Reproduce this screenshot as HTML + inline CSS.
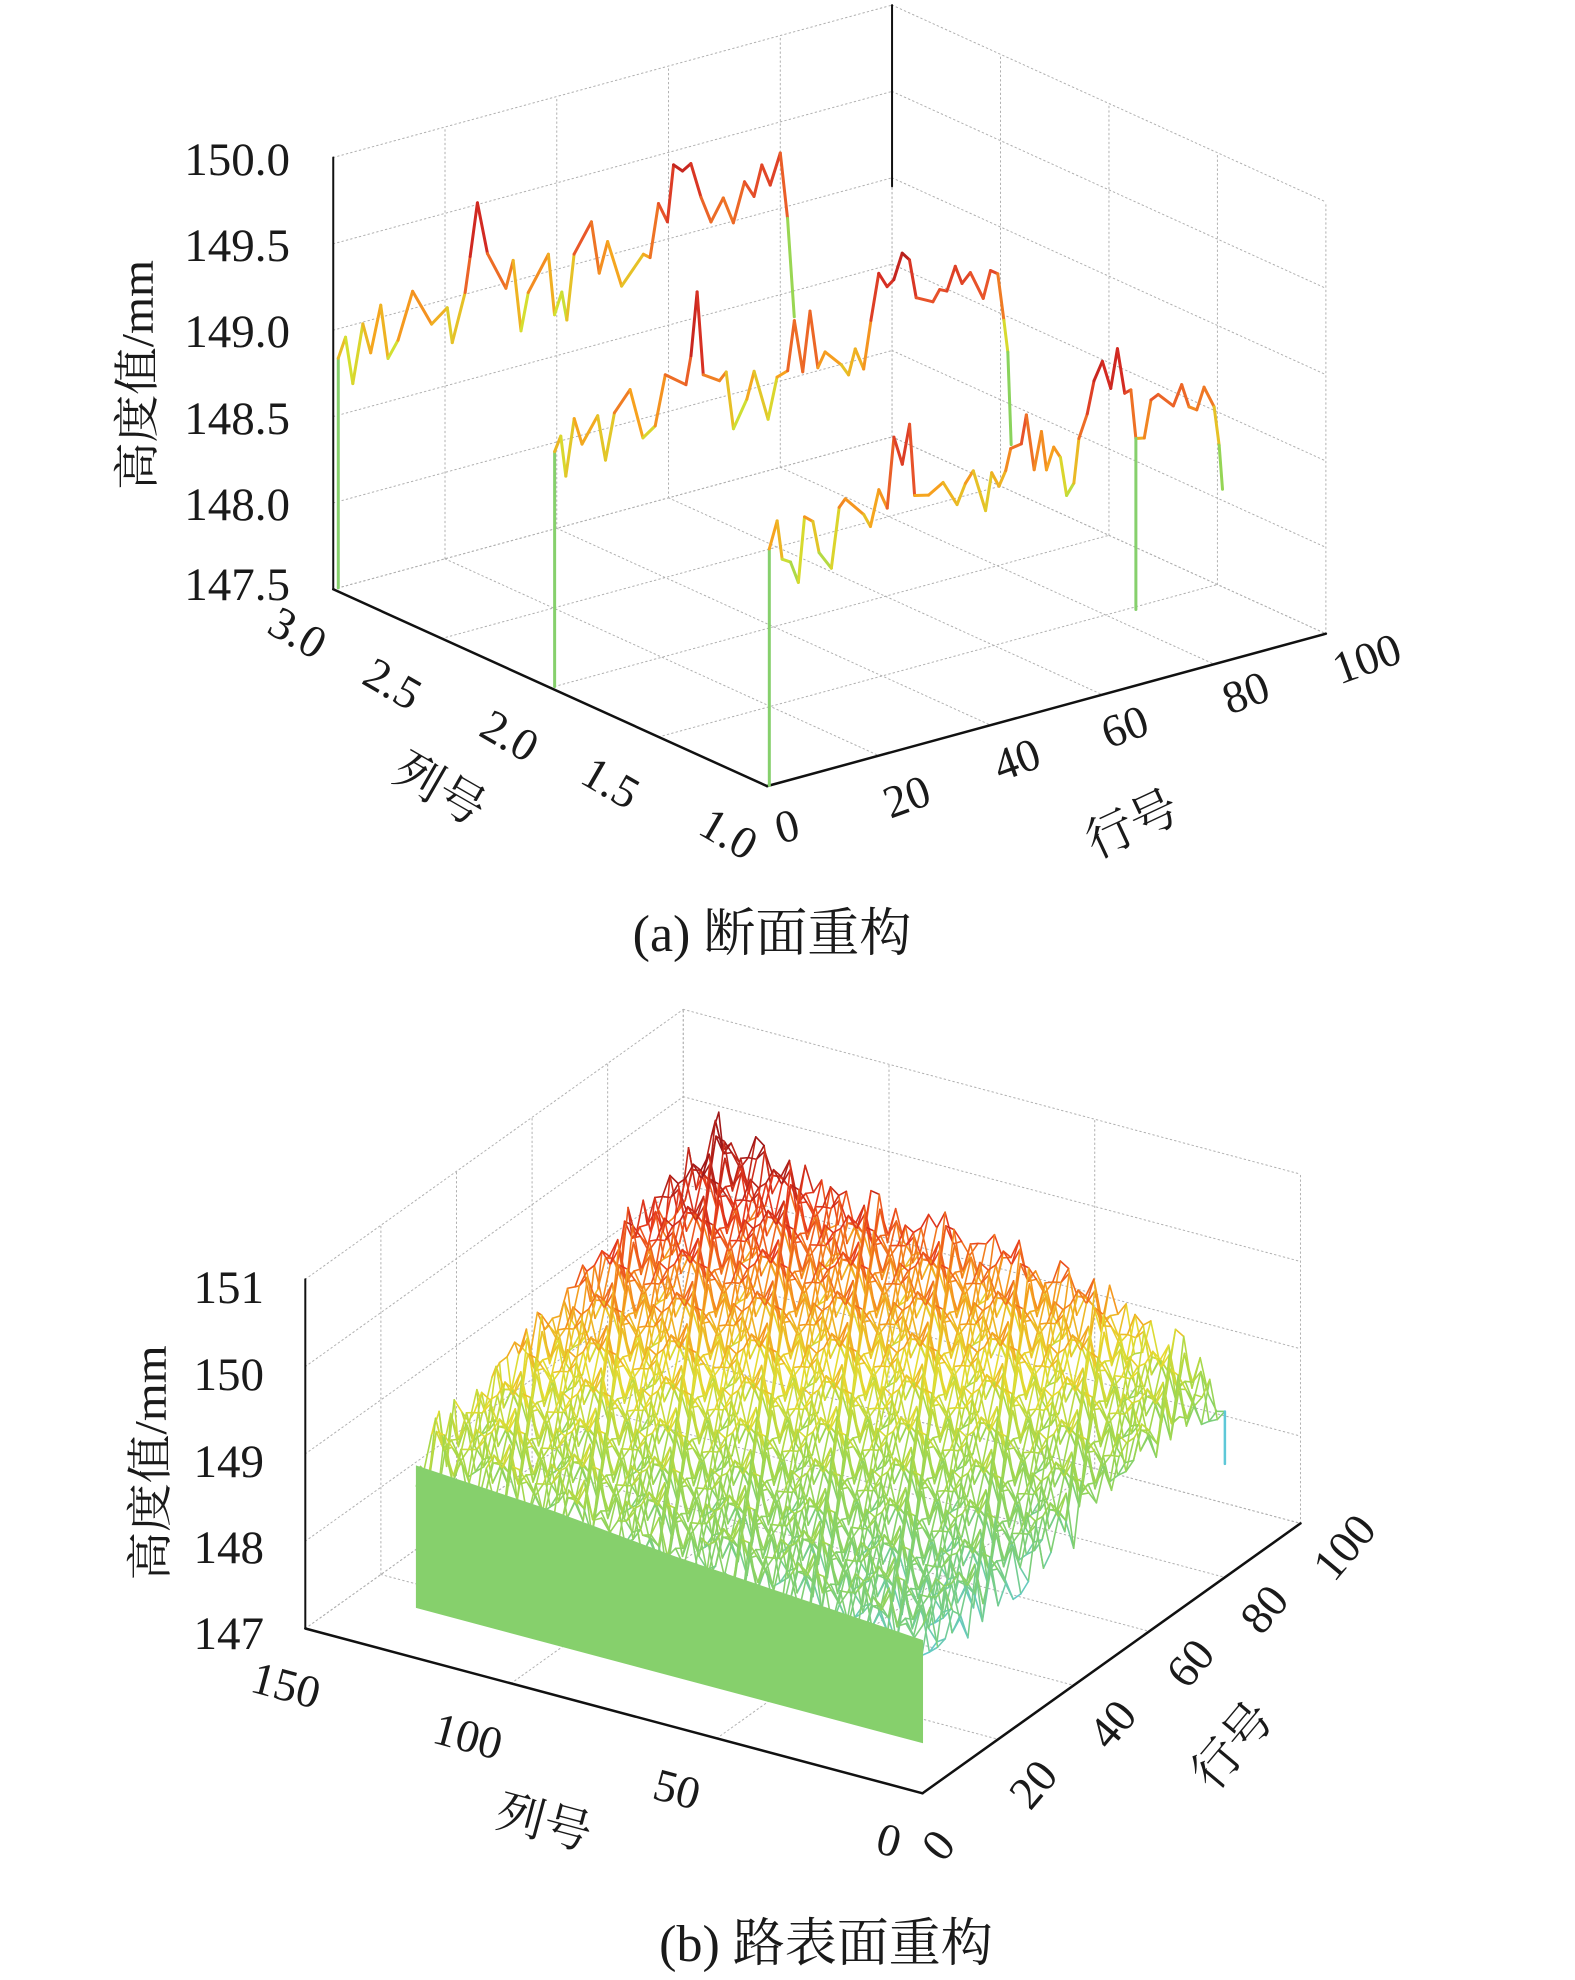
<!DOCTYPE html>
<html><head><meta charset="utf-8">
<style>
html,body{margin:0;padding:0;background:#fff;}
svg{display:block;}
text{font-family:"Liberation Serif","Noto Serif CJK SC","Noto Sans CJK SC",serif;fill:#1a1a1a;}
</style></head>
<body>
<svg id="fig" xmlns="http://www.w3.org/2000/svg" width="1575" height="1980" viewBox="0 0 1575 1980">
<g id="topG" transform="scale(1.016,0.635)"></g>
<g id="botG" transform="translate(0,990) scale(1.016,0.635)"></g>
<g id="texts">
 <g font-size="47" text-anchor="end">
  <text x="290" y="175">150.0</text>
  <text x="290" y="261">149.5</text>
  <text x="290" y="347">149.0</text>
  <text x="290" y="434">148.5</text>
  <text x="290" y="520">148.0</text>
  <text x="290" y="600">147.5</text>
 </g>
 <g font-size="46" text-anchor="middle">
  <text transform="translate(290,646) rotate(30)">3.0</text>
  <text transform="translate(385,697) rotate(30)">2.5</text>
  <text transform="translate(502,749) rotate(30)">2.0</text>
  <text transform="translate(603,796) rotate(30)">1.5</text>
  <text transform="translate(721,847) rotate(30)">1.0</text>
 </g>
 <g font-size="46" text-anchor="middle">
  <text transform="translate(791,841) rotate(-15)">0</text>
  <text transform="translate(912,811) rotate(-20)">20</text>
  <text transform="translate(1022,774) rotate(-20)">40</text>
  <text transform="translate(1130,741) rotate(-20)">60</text>
  <text transform="translate(1251,707) rotate(-20)">80</text>
  <text transform="translate(1372,673) rotate(-20)">100</text>
 </g>
 <text font-size="48" text-anchor="middle" transform="translate(432,803) rotate(30)">列号</text>
 <text font-size="48" text-anchor="middle" transform="translate(1139,839) rotate(-25)">行号</text>
 <text font-size="46" text-anchor="middle" transform="translate(153,375) rotate(-90)" textLength="230" lengthAdjust="spacingAndGlyphs">高度值/mm</text>
 <text font-size="52" text-anchor="middle" x="772" y="951">(a) 断面重构</text>

 <g font-size="47" text-anchor="end">
  <text x="264" y="1303">151</text>
  <text x="264" y="1390">150</text>
  <text x="264" y="1477">149</text>
  <text x="264" y="1563">148</text>
  <text x="264" y="1649">147</text>
 </g>
 <g font-size="46" text-anchor="middle">
  <text transform="translate(282,1700) rotate(15)">150</text>
  <text transform="translate(464,1751) rotate(15)">100</text>
  <text transform="translate(673,1804) rotate(15)">50</text>
  <text transform="translate(885,1855) rotate(15)">0</text>
 </g>
 <g font-size="46" text-anchor="middle">
  <text transform="translate(950,1855) rotate(-50)">0</text>
  <text transform="translate(1045,1794) rotate(-50)">20</text>
  <text transform="translate(1124,1734) rotate(-50)">40</text>
  <text transform="translate(1202,1673) rotate(-50)">60</text>
  <text transform="translate(1276,1619) rotate(-50)">80</text>
  <text transform="translate(1356,1557) rotate(-50)">100</text>
 </g>
 <text font-size="48" text-anchor="middle" transform="translate(540,1838) rotate(15)">列号</text>
 <text font-size="48" text-anchor="middle" transform="translate(1245,1756) rotate(-50)">行号</text>
 <text font-size="46" text-anchor="middle" transform="translate(166,1463) rotate(-90)" textLength="235" lengthAdjust="spacingAndGlyphs">高度值/mm</text>
 <text font-size="52" text-anchor="middle" x="826" y="1961">(b) 路表面重构</text>
</g>
</svg>
<script>
// ---------- (a) profile data ----------
const profileCols = [3, 2, 1];
const rows1 = [0.9,2.2,3.5,5.3,6.7,8.5,9.8,11.6,14.2,17.6,20.4,21.3,23.6,24.5,25.8,27.6,30.9,32.2,33.6,34.9,38.5,39.6,40.9,41.8,43.1,46.2,47.6,49.1,51.6,55.5,56.7,58.2,59.8,60.9,62.5,64.0,65.8,67.6,69.8,71.6,73.6,75.3,76.7,78.2,80.0,81.3,82.5];
const z1 = [148.83,148.94,148.66,148.99,148.81,149.07,148.75,148.84,149.10,148.88,148.95,148.74,149.01,149.21,149.51,149.20,148.97,149.12,148.70,148.91,149.10,148.74,148.86,148.69,149.06,149.22,148.91,149.08,148.80,148.95,148.92,149.22,149.10,149.42,149.37,149.40,149.19,149.03,149.15,148.99,149.21,149.11,149.28,149.15,149.32,148.93,148.35];
const rows2 = [0.8,1.9,2.8,4.3,5.7,8.5,9.9,11.5,14.3,16.6,18.8,20.6,24.3,25.2,26.3,27.4,30.3,31.5,32.8,35.2,36.5,39.0,40.6,42.5,43.7,45.2,46.5,47.9,49.2,52.1,53.4,54.6,56.1,57.4,58.8,60.3,61.5,63.0,64.3,65.5,68.5,69.7,71.0,72.5,73.7,75.2,77.5,78.8,80.1,81.2,81.9,82.5];
const z2 = [148.86,148.94,148.70,149.02,148.86,149.00,148.73,148.99,149.10,148.80,148.85,149.13,149.04,149.20,149.56,149.07,149.01,149.05,148.71,148.86,149.01,148.71,148.94,148.96,149.24,148.93,149.27,148.93,149.01,148.91,148.84,148.98,148.85,149.12,149.38,149.29,149.32,149.46,149.41,149.18,149.13,149.19,149.17,149.30,149.19,149.24,149.07,149.22,149.19,148.91,148.72,148.18];
const rows3 = [0.4,1.8,2.7,4.2,5.6,6.7,8.2,9.3,11.5,12.9,14.0,17.3,18.5,20.0,21.5,22.7,24.2,25.5,26.4,28.9,31.5,34.0,35.5,36.9,39.1,40.2,41.5,42.7,43.6,45.5,46.4,47.8,49.1,50.0,51.3,52.5,53.6,54.9,55.8,57.3,58.5,60.0,61.5,62.7,64.0,65.1,66.0,67.5,68.7,70.0,72.7,74.2,75.5,76.9,78.2,80.0,80.9,81.5];
const z3 = [148.87,149.02,148.79,148.76,148.63,149.00,148.96,148.77,148.66,149.00,149.04,148.92,148.84,149.04,148.92,149.32,149.15,149.37,148.95,148.93,148.98,148.83,148.94,149.00,148.75,148.96,148.87,148.95,149.07,149.08,149.24,148.91,149.12,148.89,149.01,148.94,148.71,148.77,149.02,149.15,149.33,149.43,149.26,149.48,149.21,149.22,148.93,148.92,149.13,149.15,149.06,149.17,149.03,149.00,149.12,148.99,148.76,148.50];
const dropRow3 = 66.0, dropLow3 = 147.94;
const topZTicks = [147.5,148.0,148.5,149.0,149.5,150.0];
const topRowTicks = [0,20,40,60,80,100];
const topColTicks = [1.0,1.5,2.0,2.5,3.0];

// ---------- (b) surface data ----------
const surfRows = [0,20,40,60,80];
const surfCols = [0,30,60,90,123];
const surfZ0 = [148.8,148.9,149.0,149.15,149.25];
const surfZ20 = [148.75,148.95,149.1,149.3,149.45];
const surfZ40 = [148.95,149.2,149.4,149.6,149.8];
const surfZ60 = [149.2,149.5,149.7,149.9,150.15];
const surfZ80 = [149.1,149.8,149.95,150.05,150.45];
const roughness = [0.12,-0.28,0.31,-0.05,0.22,-0.36,0.08,0.27,-0.18,0.02,-0.31,0.19,0.35,-0.12,-0.24,0.14,0.05,-0.33,0.26,-0.08,0.17,-0.2,0.33,-0.02,-0.27,0.1,0.24,-0.15,0.06,-0.38,0.2,0.29,-0.1,-0.22,0.15,-0.04,0.3];
const botZTicks = [147,148,149,150,151];
const botRowTicks = [0,20,40,60,80,100];
const botColTicks = [0,50,100,150];

const NS = "http://www.w3.org/2000/svg";
function mk(tag, attrs, parent){ const e=document.createElementNS(NS,tag); for(const k in attrs) e.setAttribute(k,attrs[k]); parent.appendChild(e); return e; }
function hex(c){return [parseInt(c.substr(1,2),16),parseInt(c.substr(3,2),16),parseInt(c.substr(5,2),16)];}
function cmap(stops, z){
  if(z<=stops[0][0]) return stops[0][1];
  for(let i=1;i<stops.length;i++){ if(z<=stops[i][0]){ const t=(z-stops[i-1][0])/(stops[i][0]-stops[i-1][0]); const a=hex(stops[i-1][1]), b=hex(stops[i][1]); return "rgb("+a.map((v,j)=>Math.round(v+(b[j]-v)*t)).join(",")+")"; } }
  return stops[stops.length-1][1];
}
function line(g, p, q, color, w, dash, name){
  const l = mk("line",{x1:p[0],y1:p[1],x2:q[0],y2:q[1],stroke:color,"stroke-width":w,"vector-effect":"non-scaling-stroke","stroke-linecap":"round"},g);
  if(dash) l.setAttribute("stroke-dasharray",dash);
  
  
  return l;
}

// ===== top =====
(function(){
  const g = document.getElementById("topG");
  const P = (r,c,z)=>[755+5.5*r-213.5*(c-1), 1238-2.4*r-155*(c-1)-272*(z-147.5)];
  const grid="#b0b0b0", d="1.5 3";
  topZTicks.forEach(z=>{ line(g,P(0,3,z),P(100,3,z),grid,1,d,"grid-z"); line(g,P(100,3,z),P(100,1,z),grid,1,d,"grid-z"); });
  topRowTicks.forEach(r=>{ line(g,P(r,3,147.5),P(r,3,150),grid,1,d,"grid-row"); line(g,P(r,3,147.5),P(r,1,147.5),grid,1,d,"grid-floor-row"); });
  topColTicks.forEach(c=>{ line(g,P(100,c,147.5),P(100,c,150),grid,1,d,"grid-col"); line(g,P(0,c,147.5),P(100,c,147.5),grid,1,d,"grid-floor-col"); });
  line(g,P(0,3,147.5),P(0,3,150),"#111",2,null,"z-axis");
  line(g,P(0,3,147.5),P(0,1,147.5),"#111",2.5,null,"col-axis");
  line(g,P(0,1,147.5),P(100,1,147.5),"#111",2.5,null,"row-axis");
  line(g,P(100,3,150),P(100,3,148.95),"#111",2,null,"back-edge");
  const stops=[[148.6,"#8ad35c"],[148.8,"#d4e030"],[148.95,"#f7a21e"],[149.15,"#e8542a"],[149.35,"#d42a22"],[149.55,"#8e1616"]];
  const series=[[rows1,z1],[rows2,z2],[rows3,z3]];
  series.forEach((s,si)=>{
    const c=profileCols[si], R=s[0], Z=s[1];
    line(g,P(R[0],c,147.5),P(R[0],c,Z[0]),"#86d06c",3,null,"profile-"+(si+1)+"-drop");
    for(let i=1;i<R.length;i++){
      line(g,P(R[i-1],c,Z[i-1]),P(R[i],c,Z[i]),cmap(stops,(Z[i-1]+Z[i])/2),3,null,"profile-"+(si+1)+"-segment");
    }
  });
  line(g,P(dropRow3,1,148.93),P(dropRow3,1,dropLow3),"#86d06c",3,null,"profile-3-spike");
})();

// ===== bottom =====
(function(){
  const g = document.getElementById("botG");
  const P = (r,c,z)=>[908+3.72*r-4.05*c, 1265-4.25*r-1.73*c-137.5*(z-147)];
  const grid="#b0b0b0", d="1.5 3";
  botZTicks.forEach(z=>{ line(g,P(0,150,z),P(100,150,z),grid,1,d,"grid-z"); line(g,P(100,150,z),P(100,0,z),grid,1,d,"grid-z"); });
  botRowTicks.forEach(r=>{ line(g,P(r,150,147),P(r,150,151),grid,1,d,"grid-row"); line(g,P(r,150,147),P(r,0,147),grid,1,d,"grid-floor-row"); });
  botColTicks.forEach(c=>{ line(g,P(100,c,147),P(100,c,151),grid,1,d,"grid-col"); line(g,P(0,c,147),P(100,c,147),grid,1,d,"grid-floor-col"); });
  line(g,P(0,150,147),P(0,150,151),"#111",2,null,"z-axis");
  line(g,P(0,150,147),P(0,0,147),"#111",2.5,null,"col-axis");
  line(g,P(0,0,147),P(100,0,147),"#111",2.5,null,"row-axis");
  const grid2=[surfZ0,surfZ20,surfZ40,surfZ60,surfZ80];
  function trend(r,c){
    let i=0; while(i<surfRows.length-2 && r>surfRows[i+1]) i++;
    let j=0; while(j<surfCols.length-2 && c>surfCols[j+1]) j++;
    const tr=(r-surfRows[i])/(surfRows[i+1]-surfRows[i]), tc=(c-surfCols[j])/(surfCols[j+1]-surfCols[j]);
    const a=grid2[i][j]+(grid2[i][j+1]-grid2[i][j])*tc, b=grid2[i+1][j]+(grid2[i+1][j+1]-grid2[i+1][j])*tc;
    return a+(b-a)*tr;
  }
  const RS=2, CS=2, CMAX=123;
  function h(ri,ci){ const r=ri*RS, c=Math.min(ci*CS,CMAX); return trend(r,c)+roughness[(ri*7+ci*3)%roughness.length]; }
  const stops=[[148.4,"#5ec8d8"],[148.9,"#7fcf70"],[149.25,"#a6d84a"],[149.55,"#e6dc30"],[149.85,"#f5961e"],[150.15,"#e83a1e"],[150.5,"#a01818"]];
  const NR=40, NC=Math.ceil(CMAX/CS)+1;
  for(let ri=NR; ri>=0; ri--){
    for(let ci=0; ci<NC; ci++){
      const r=ri*RS, c=Math.min(ci*CS,CMAX), z=h(ri,ci);
      if(ci>0){ const z2=h(ri,ci-1); line(g,P(r,Math.min((ci-1)*CS,CMAX),z2),P(r,c,z),cmap(stops,(z+z2)/2),1.6,null,"mesh-row-line"); }
      if(ri<NR){ const z2=h(ri+1,ci); line(g,P(r+RS,c,z2),P(r,c,z),cmap(stops,(z+z2)/2),1.6,null,"mesh-col-line"); }
    }
  }
  line(g,P(80,0,h(40,0)),P(80,0,148.3),"#5ec8d8",2.5,null,"surface-edge-drop");
  let pts=[];
  for(let ci=0; ci<NC; ci++){ const c=Math.min(ci*CS,CMAX); const p=P(0,c,trend(0,c)-0.05); pts.push(p[0]+","+p[1]); }
  const pb1=P(0,CMAX,147.58), pb0=P(0,0,147.58);
  pts.push(pb1[0]+","+pb1[1]); pts.push(pb0[0]+","+pb0[1]);
  const wall=mk("polygon",{points:pts.join(" "),fill:"#86d06c",stroke:"#86d06c","stroke-width":1,"vector-effect":"non-scaling-stroke"},g);
  
  
})();
</script>
</body></html>
